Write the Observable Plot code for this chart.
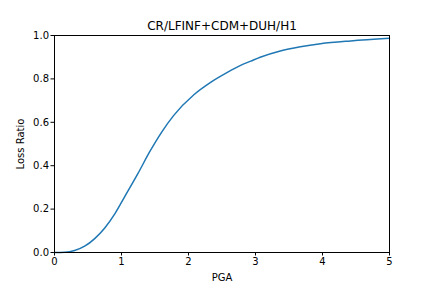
<!DOCTYPE html>
<html>
<head>
<meta charset="utf-8">
<script src="https://cdn.jsdelivr.net/npm/d3@7"></script>
<script src="https://cdn.jsdelivr.net/npm/@observablehq/plot@0.6"></script>
<style>
  html, body { margin: 0; padding: 0; background: #fff; }
  #chart svg { display: block; }
</style>
</head>
<body>
<div id="chart"></div>
<script>
const title = "CR/LFINF+CDM+DUH/H1";
const xLabel = "PGA";
const yLabel = "Loss Ratio";
const xTicks = [0, 1, 2, 3, 4, 5];
const yTicks = [0, 0.2, 0.4, 0.6, 0.8, 1.0];

const pga = [0, 0.15, 0.3, 0.45, 0.6, 0.75, 0.9, 1.04, 1.24, 1.43, 1.6, 1.78, 2.08, 2.33, 2.58, 2.77, 2.93, 3.07, 3.37, 3.67, 3.97, 4.42, 5.0];
const lossRatio = [0, 0.001, 0.009, 0.029, 0.064, 0.113, 0.178, 0.253, 0.361, 0.469, 0.555, 0.632, 0.727, 0.784, 0.830, 0.861, 0.882, 0.900, 0.929, 0.948, 0.962, 0.975, 0.987];

const data = pga.map((x, i) => ({x, y: lossRatio[i]}));
const font = "DejaVu Sans, sans-serif";

const chart = Plot.plot({
  width: 432,
  height: 288,
  marginTop: 35,
  marginLeft: 54,
  marginRight: 43,
  marginBottom: 36,
  style: {fontFamily: font, fontSize: "10px", color: "#000", background: "#fff"},
  x: {domain: [0, 5]},
  y: {domain: [0, 1]},
  marks: [
    Plot.axisX({ticks: xTicks, tickSize: 3.5, tickPadding: 2, tickFormat: d3.format("d"), label: null, fontSize: 10}),
    Plot.axisY({ticks: yTicks, tickSize: 3.5, tickPadding: 2, tickFormat: d3.format(".1f"), label: null, fontSize: 10}),
    Plot.line(data, {x: "x", y: "y", stroke: "#1f77b4", strokeWidth: 1.5, curve: "monotone-x"}),
    Plot.frame({stroke: "#000", strokeWidth: 1}),
    Plot.text([title], {frameAnchor: "top", dy: -6, lineAnchor: "bottom", fontSize: 12, fill: "#000", text: d => d}),
    Plot.text([xLabel], {frameAnchor: "bottom", dy: 25, lineAnchor: "middle", fontSize: 10, fill: "#000", text: d => d}),
    Plot.text([yLabel], {frameAnchor: "left", dx: -34, rotate: -90, textAnchor: "middle", lineAnchor: "middle", fontSize: 10, fill: "#000", text: d => d})
  ]
});
document.getElementById("chart").appendChild(chart);
</script>
</body>
</html>
